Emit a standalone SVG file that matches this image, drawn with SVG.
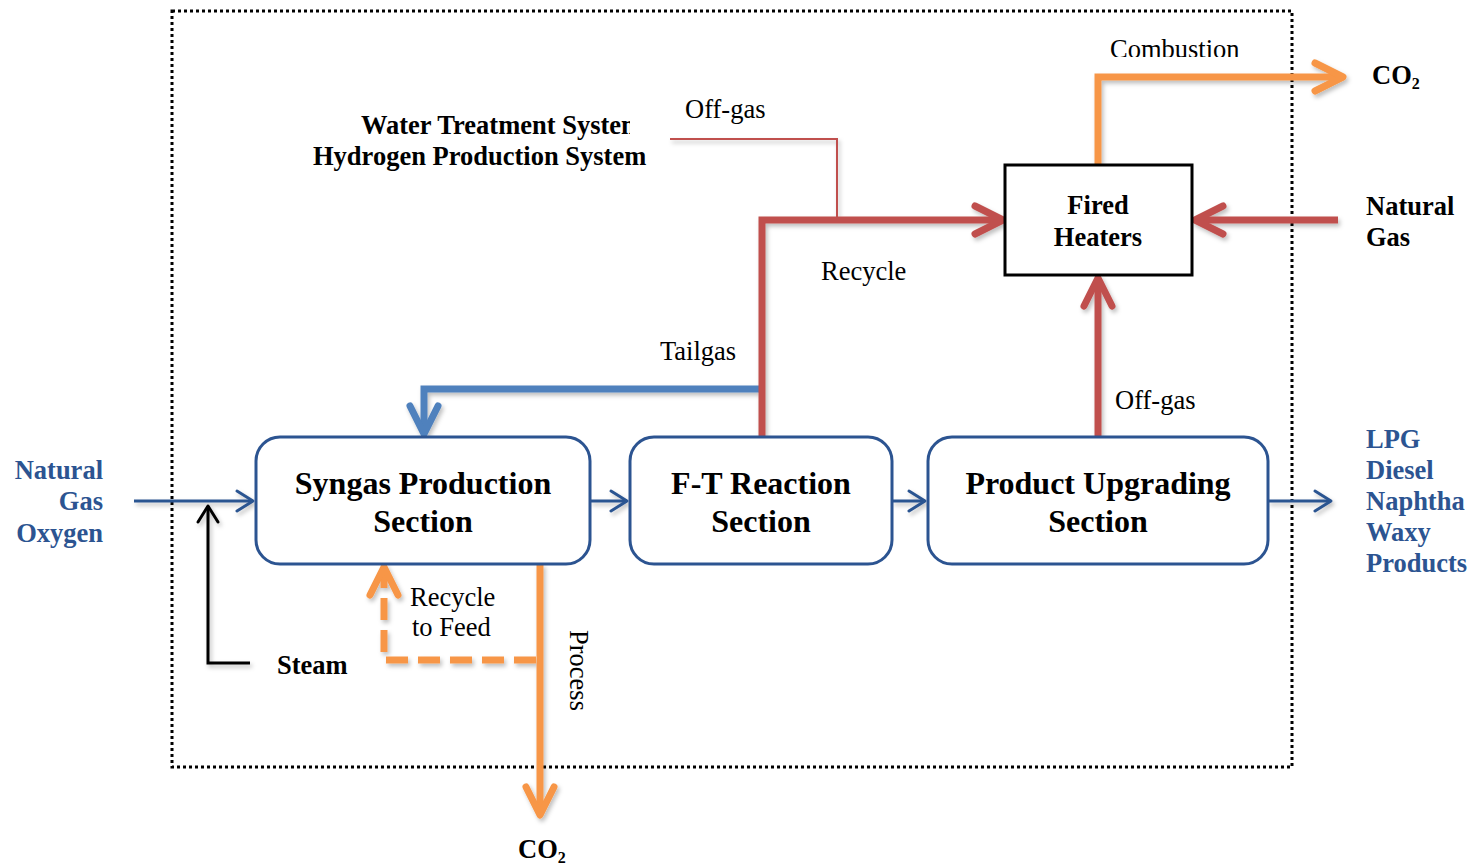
<svg xmlns="http://www.w3.org/2000/svg" width="1472" height="868" viewBox="0 0 1472 868">
<style>
.box{fill:#fff;stroke:#2c5491;stroke-width:3}
.fh{fill:#fff;stroke:#000;stroke-width:3}
.nt{font-family:"Liberation Serif",serif;font-weight:bold;font-size:32px;fill:#000;text-anchor:middle}
.b24{font-family:"Liberation Serif",serif;font-weight:bold;font-size:26.5px;fill:#000}
.r24{font-family:"Liberation Serif",serif;font-size:26.5px;fill:#000}
.blue{fill:#2c5491}
.thin{fill:none;stroke:#2c5491;stroke-width:3}
.thick{fill:none;stroke-width:7;stroke-linejoin:miter}
.red{stroke:#c0504d}
.orange{stroke:#f79646}
.lblue{stroke:#4f81bd}
</style>
<defs>
<filter id="sh" x="-20%" y="-20%" width="140%" height="140%">
<feDropShadow dx="2" dy="3" stdDeviation="2" flood-color="#000" flood-opacity="0.25"/>
</filter>
<marker id="aBlue" viewBox="-20 -14 24 28" refX="0" refY="0" markerWidth="24" markerHeight="28" markerUnits="userSpaceOnUse" orient="auto">
<path d="M-16,-10 L0,0 L-16,10" fill="none" stroke="#2c5491" stroke-width="3" stroke-linecap="round" stroke-linejoin="round"/>
</marker>
<marker id="aBlack" viewBox="-20 -14 24 28" refX="0" refY="0" markerWidth="24" markerHeight="28" markerUnits="userSpaceOnUse" orient="auto">
<path d="M-16,-10 L0,0 L-16,10" fill="none" stroke="#000" stroke-width="3" stroke-linecap="round" stroke-linejoin="round"/>
</marker>
<marker id="aRed" viewBox="-36 -20 44 40" refX="-3" refY="0" markerWidth="44" markerHeight="40" markerUnits="userSpaceOnUse" orient="auto">
<path d="M-28,-14 L0,0 L-28,14" fill="none" stroke="#c0504d" stroke-width="7" stroke-linecap="round" stroke-linejoin="round"/>
</marker>
<marker id="aOrange" viewBox="-36 -20 44 40" refX="-3" refY="0" markerWidth="44" markerHeight="40" markerUnits="userSpaceOnUse" orient="auto">
<path d="M-28,-14 L0,0 L-28,14" fill="none" stroke="#f79646" stroke-width="7" stroke-linecap="round" stroke-linejoin="round"/>
</marker>
<marker id="aLBlue" viewBox="-36 -20 44 40" refX="-3" refY="0" markerWidth="44" markerHeight="40" markerUnits="userSpaceOnUse" orient="auto">
<path d="M-28,-14 L0,0 L-28,14" fill="none" stroke="#4f81bd" stroke-width="7" stroke-linecap="round" stroke-linejoin="round"/>
</marker>
<clipPath id="clipWater"><rect x="300" y="100" width="330" height="60"/></clipPath>
<clipPath id="clipComb"><rect x="1090" y="16" width="200" height="41"/></clipPath>
</defs>

<rect x="0" y="0" width="1472" height="868" fill="#fff"/>

<g id="boundary">
<rect x="172" y="11" width="1120" height="756" fill="none" stroke="#000" stroke-width="3" stroke-dasharray="3 3"/>
</g>

<g id="connectors" filter="url(#sh)">
<path class="thin" d="M134,501 L253,501" marker-end="url(#aBlue)"/>
<path d="M250,663 L208,663 L208,506" fill="none" stroke="#000" stroke-width="3" marker-end="url(#aBlack)"/>
<path class="thin" d="M590,501 L627,501" marker-end="url(#aBlue)"/>
<path class="thin" d="M892,501 L925,501" marker-end="url(#aBlue)"/>
<path class="thin" d="M1268,501 L1331,501" marker-end="url(#aBlue)"/>
<path class="thick lblue" d="M762,389 L424,389 L424,431" marker-end="url(#aLBlue)"/>
<path d="M670,139 L837,139 L837,218" fill="none" stroke="#c0504d" stroke-width="2"/>
<path class="thick red" d="M762,437 L762,220 L1000,220" marker-end="url(#aRed)"/>
<path class="thick red" d="M1338,220 L1198,220" marker-end="url(#aRed)"/>
<path class="thick red" d="M1098,437 L1098,281" marker-end="url(#aRed)"/>
<path class="thick orange" d="M1098,165 L1098,77 L1340,77" marker-end="url(#aOrange)"/>
<path class="thick orange" d="M540,564 L540,812" marker-end="url(#aOrange)"/>
<path class="thick orange" d="M536,660 L384,660 L384,570" stroke-dasharray="22 10" marker-end="url(#aOrange)"/>
</g>

<g id="syngas">
<rect class="box" x="256" y="437" width="334" height="127" rx="24"/>
<text class="nt" x="423" y="494">Syngas Production</text>
<text class="nt" x="423" y="532">Section</text>
</g>
<g id="ft">
<rect class="box" x="630" y="437" width="262" height="127" rx="24"/>
<text class="nt" x="761" y="494">F-T Reaction</text>
<text class="nt" x="761" y="532">Section</text>
</g>
<g id="upgrading">
<rect class="box" x="928" y="437" width="340" height="127" rx="24"/>
<text class="nt" x="1098" y="494">Product Upgrading</text>
<text class="nt" x="1098" y="532">Section</text>
</g>
<g id="fired">
<rect class="fh" x="1005" y="165" width="187" height="110"/>
<text class="b24" x="1098" y="214" text-anchor="middle">Fired</text>
<text class="b24" x="1098" y="246" text-anchor="middle">Heaters</text>
</g>

<g id="labels">
<text class="b24" x="361" y="134" clip-path="url(#clipWater)">Water Treatment System</text>
<text class="b24" x="313" y="165">Hydrogen Production System</text>
<text class="r24" x="685" y="118">Off-gas</text>
<text class="r24" x="1110" y="58" clip-path="url(#clipComb)">Combustion</text>
<text class="b24" x="1372" y="84">CO<tspan font-size="16" dy="5">2</tspan></text>
<text class="b24" x="1366" y="215">Natural</text>
<text class="b24" x="1366" y="246">Gas</text>
<text class="r24" x="821" y="280">Recycle</text>
<text class="r24" x="660" y="360">Tailgas</text>
<text class="r24" x="1115" y="409">Off-gas</text>
<text class="b24 blue" x="103" y="479" text-anchor="end">Natural</text>
<text class="b24 blue" x="103" y="510" text-anchor="end">Gas</text>
<text class="b24 blue" x="103" y="542" text-anchor="end">Oxygen</text>
<text class="b24 blue" x="1366" y="448">LPG</text>
<text class="b24 blue" x="1366" y="479">Diesel</text>
<text class="b24 blue" x="1366" y="510">Naphtha</text>
<text class="b24 blue" x="1366" y="541">Waxy</text>
<text class="b24 blue" x="1366" y="572">Products</text>
<text class="b24" x="277" y="674">Steam</text>
<text class="r24" x="410" y="606">Recycle</text>
<text class="r24" x="412" y="636">to Feed</text>
<text class="r24" transform="translate(570,630) rotate(90)">Process</text>
<text class="b24" x="518" y="858">CO<tspan font-size="16" dy="5">2</tspan></text>
</g>
</svg>
